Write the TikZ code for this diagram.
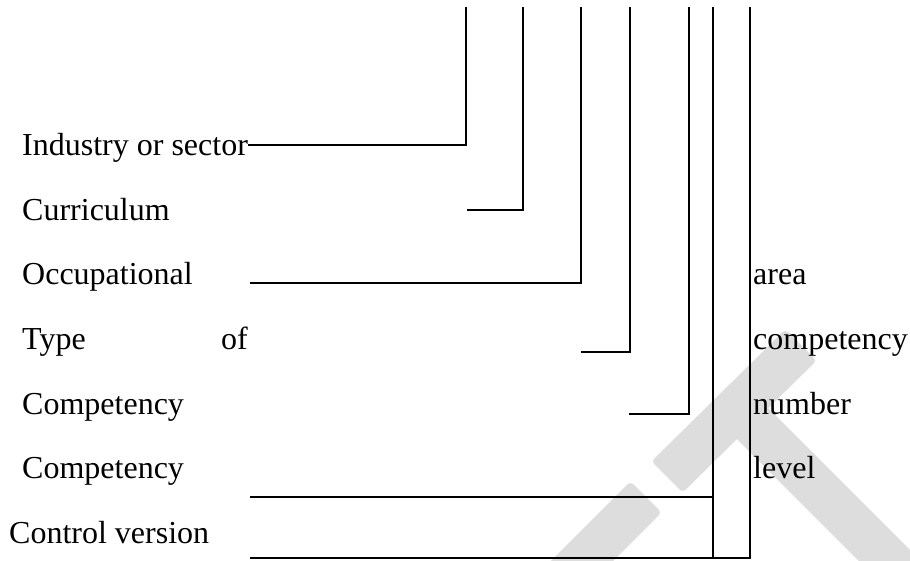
\documentclass[tikz,border=0pt]{standalone}
\usepackage{fontspec}
\setmainfont{Liberation Serif}
\usepackage{tikz}
\usetikzlibrary{positioning}
\definecolor{wmgray}{RGB}{221,221,221}

\begin{document}
\begin{tikzpicture}[
  x=1pt, y=-1pt,
  term/.style={anchor=base west, inner sep=0pt, font=\fontsize{32}{38}\selectfont},
  wire/.style={line width=2pt},
  wmband/.style={fill=wmgray, rounded corners=4pt}
]
  \useasboundingbox (0,0) rectangle (910,561);

  % watermark behind the picture
  \begin{scope}
    \clip (0,0) rectangle (910,561);
    \fill[wmband] (651.4,461.4) -- (785.4,329.4) -- (816.6,360.6) -- (682.6,492.6) -- cycle;
    \fill[wmband] (630.4,481.4) -- (661.6,512.6) -- (575.6,598.6) -- (544.4,567.4) -- cycle;
    \fill[wmband] (752.6,392.4) -- (975.6,615.4) -- (944.4,646.6) -- (721.4,423.6) -- cycle;
  \end{scope}

  % left column
  \node[term] (industry) at (22,156) {Industry or sector};
  \node[term] (curriculum) at (22,220.5) {Curriculum};
  \node[term] (occupational) at (22,285) {Occupational};
  \node[term] (type) at (22,349.5) {Type};
  \node[term, anchor=base east] (of) at (248,349.5) {of};
  \node[term] (compnumber) at (22,414) {Competency};
  \node[term] (complevel) at (22,478.5) {Competency};
  \node[term] (control) at (9,543) {Control version};

  % right column
  \node[term] (area) at (753,285) {area};
  \node[term] (competency) at (753,349.5) {competency};
  \node[term] (number) at (753,414) {number};
  \node[term] (level) at (753,478.5) {level};

  % ends of the wires
  \coordinate (top1) at (466,7);
  \coordinate (top2) at (523,7);
  \coordinate (top3) at (581,7);
  \coordinate (top4) at (630,7);
  \coordinate (top5) at (689,7);
  \coordinate (top6) at (713,7);
  \coordinate (top7) at (750,7);
  \coordinate (from1) at (248,145);
  \coordinate (from2) at (467,210);
  \coordinate (from3) at (250,283);
  \coordinate (from4) at (581,352);
  \coordinate (from5) at (629,414);
  \coordinate (from6) at (250,497);
  \coordinate (from7) at (250,558);
  \coordinate (bot6) at (713,558);

  \draw[wire, line width=2.6pt] (from1) -| (top1);
  \draw[wire] (from2) -| (top2);
  \draw[wire] (from3) -| (top3);
  \draw[wire] (from4) -| (top4);
  \draw[wire] (from5) -| (top5);
  \draw[wire] (from6) -| (top6);
  \draw[wire] (bot6) -- (top6);
  \draw[wire] (from7) -| (top7);
\end{tikzpicture}
\end{document}
